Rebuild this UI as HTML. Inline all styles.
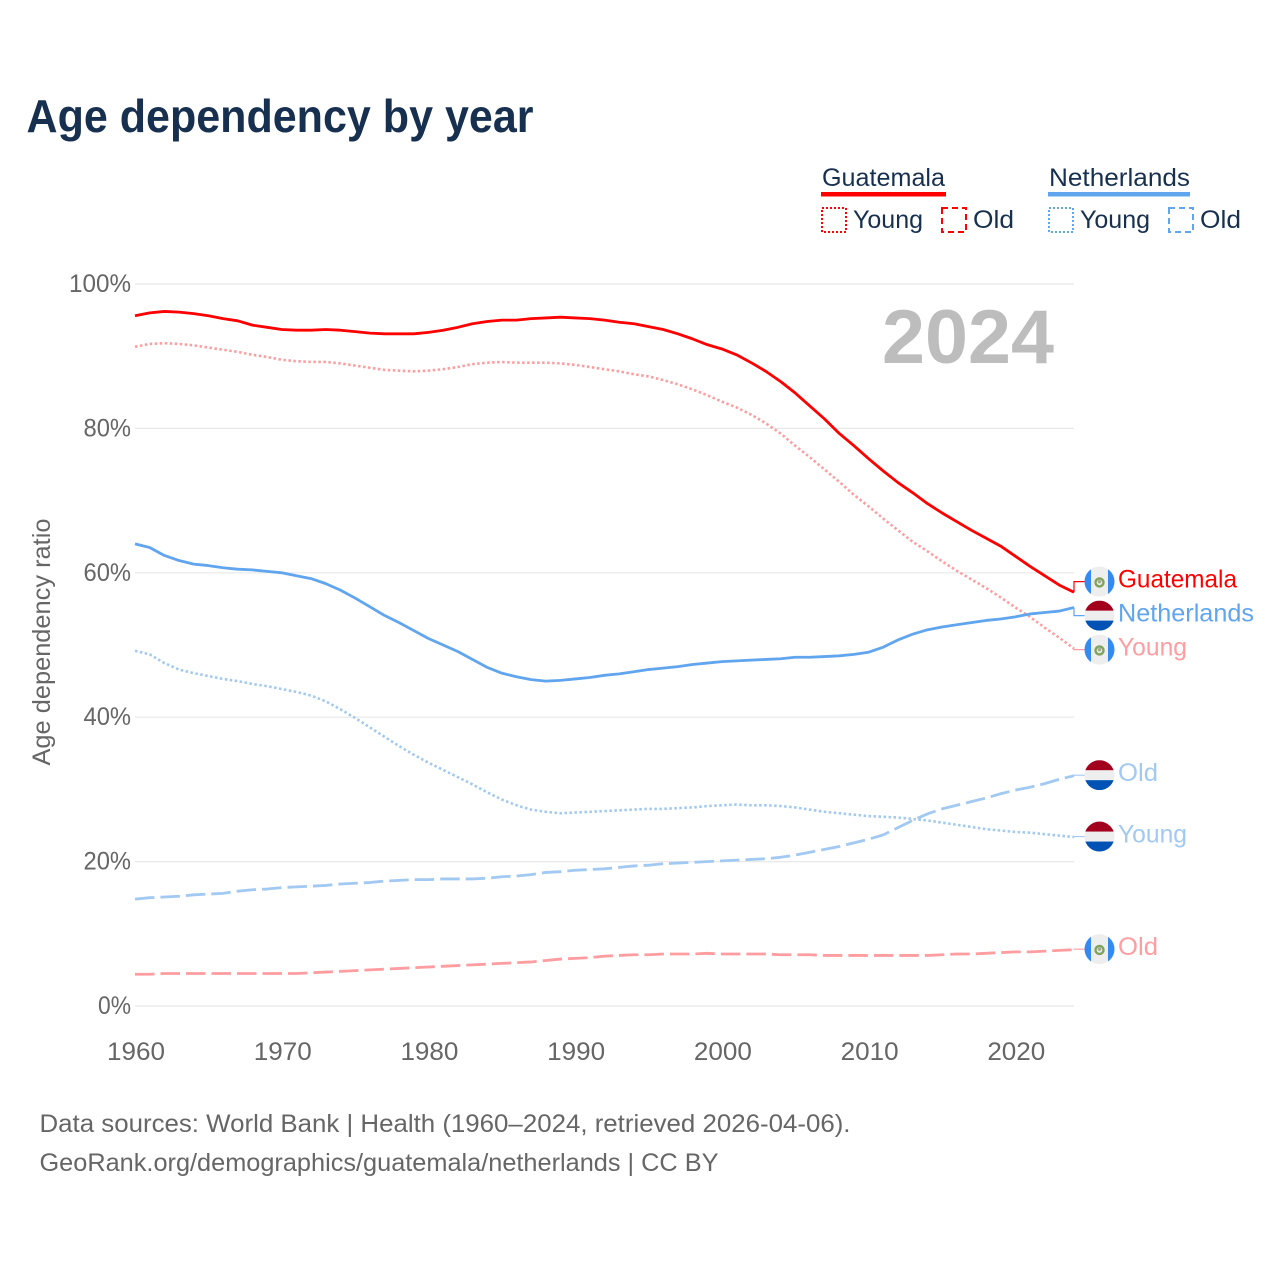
<!DOCTYPE html>
<html lang="en">
<head>
<meta charset="utf-8">
<title>Age dependency by year</title>
<style>
html,body{margin:0;padding:0;background:#fff;}
svg{display:block;font-family:"Liberation Sans",sans-serif;}
</style>
</head>
<body>
<svg id="chart" xmlns="http://www.w3.org/2000/svg" width="1280" height="1280" viewBox="0 0 1280 1280">
  <defs>
    <clipPath id="flag-clip"><circle cx="0" cy="0" r="15"></circle></clipPath>
  </defs>
  <rect width="1280" height="1280" fill="#ffffff"></rect>
  <text x="26.5" y="132" font-size="46" font-weight="700" fill="#18304f" textLength="507" lengthAdjust="spacingAndGlyphs">Age dependency by year</text>

  <g font-size="25" fill="#18304f">
    <text x="822" y="186" textLength="123" lengthAdjust="spacingAndGlyphs">Guatemala</text>
    <rect x="821" y="192" width="125" height="4.5" fill="#ff0000"></rect>
    <rect x="822" y="208" width="24" height="24" fill="none" stroke="#ff0000" stroke-width="2" stroke-dasharray="2 2"></rect>
    <text x="853" y="228" textLength="70" lengthAdjust="spacingAndGlyphs">Young</text>
    <rect x="942" y="208" width="24" height="24" fill="none" stroke="#ff0000" stroke-width="2" stroke-dasharray="6 4"></rect>
    <text x="973" y="228" textLength="41" lengthAdjust="spacingAndGlyphs">Old</text>
    <text x="1049" y="186" textLength="141" lengthAdjust="spacingAndGlyphs">Netherlands</text>
    <rect x="1048" y="192" width="142" height="4.5" fill="#60a5ee"></rect>
    <rect x="1049" y="208" width="24" height="24" fill="none" stroke="#60a5ee" stroke-width="2" stroke-dasharray="2 2"></rect>
    <text x="1080" y="228" textLength="70" lengthAdjust="spacingAndGlyphs">Young</text>
    <rect x="1169" y="208" width="24" height="24" fill="none" stroke="#60a5ee" stroke-width="2" stroke-dasharray="6 4"></rect>
    <text x="1200" y="228" textLength="41" lengthAdjust="spacingAndGlyphs">Old</text>
  </g>

  <g id="grid"></g>
  <g id="yticks"></g>
  <g id="xticks"></g>
  <text transform="translate(50,642) rotate(-90)" text-anchor="middle" font-size="25" fill="#666666" textLength="247" lengthAdjust="spacingAndGlyphs">Age dependency ratio</text>
  <text x="882" y="363" font-size="76" font-weight="700" fill="#bdbdbd" textLength="172" lengthAdjust="spacingAndGlyphs">2024</text>
  <g id="series"></g>
  <g id="labels"></g>

  <text x="39.5" y="1132" font-size="25" fill="#666666" textLength="811" lengthAdjust="spacingAndGlyphs">Data sources: World Bank | Health (1960–2024, retrieved 2026-04-06).</text>
  <text x="39.5" y="1171" font-size="25" fill="#666666" textLength="679" lengthAdjust="spacingAndGlyphs">GeoRank.org/demographics/guatemala/netherlands | CC BY</text>
</svg>
<script>
const startYear = 1960;
const endYear = 2024;
const yTickValues = [0, 20, 40, 60, 80, 100];
const xTickValues = [1960, 1970, 1980, 1990, 2000, 2010, 2020];

const guatemalaTotal = [95.6,96.0,96.2,96.1,95.9,95.6,95.2,94.9,94.3,94.0,93.7,93.6,93.6,93.7,93.6,93.4,93.2,93.1,93.1,93.1,93.3,93.6,94.0,94.5,94.8,95.0,95.0,95.2,95.3,95.4,95.3,95.2,95.0,94.7,94.5,94.1,93.7,93.1,92.4,91.6,91.0,90.2,89.1,87.9,86.5,84.9,83.1,81.3,79.3,77.6,75.8,74.1,72.5,71.1,69.6,68.3,67.1,65.9,64.8,63.7,62.3,60.9,59.6,58.3,57.3];
const guatemalaYoung = [91.3,91.7,91.8,91.7,91.5,91.2,90.9,90.6,90.2,89.9,89.5,89.3,89.2,89.2,89.0,88.7,88.4,88.1,88.0,87.9,88.0,88.2,88.5,88.9,89.1,89.2,89.1,89.1,89.1,89.0,88.8,88.5,88.2,87.9,87.5,87.2,86.7,86.1,85.4,84.6,83.7,82.9,81.9,80.7,79.3,77.6,76.0,74.3,72.6,70.8,69.2,67.5,65.9,64.3,63.0,61.6,60.3,59.1,57.9,56.6,55.2,53.9,52.4,51.0,49.5];
const guatemalaOld = [4.4,4.4,4.5,4.5,4.5,4.5,4.5,4.5,4.5,4.5,4.5,4.5,4.6,4.7,4.8,4.9,5.0,5.1,5.2,5.3,5.4,5.5,5.6,5.7,5.8,5.9,6.0,6.1,6.3,6.5,6.6,6.7,6.9,7.0,7.1,7.1,7.2,7.2,7.2,7.3,7.2,7.2,7.2,7.2,7.1,7.1,7.1,7.0,7.0,7.0,7.0,7.0,7.0,7.0,7.0,7.1,7.2,7.2,7.3,7.4,7.5,7.5,7.6,7.7,7.8];
const netherlandsTotal = [64.0,63.5,62.4,61.7,61.2,61.0,60.7,60.5,60.4,60.2,60.0,59.6,59.2,58.5,57.6,56.5,55.3,54.1,53.1,52.0,50.9,50.0,49.1,48.0,46.9,46.1,45.6,45.2,45.0,45.1,45.3,45.5,45.8,46.0,46.3,46.6,46.8,47.0,47.3,47.5,47.7,47.8,47.9,48.0,48.1,48.3,48.3,48.4,48.5,48.7,49.0,49.7,50.7,51.5,52.1,52.5,52.8,53.1,53.4,53.6,53.9,54.3,54.5,54.7,55.2];
const netherlandsYoung = [49.2,48.7,47.5,46.6,46.1,45.7,45.3,45.0,44.6,44.3,43.9,43.5,43.0,42.2,41.1,39.9,38.6,37.3,36.0,34.8,33.7,32.7,31.7,30.7,29.6,28.6,27.8,27.2,26.9,26.7,26.8,26.9,27.0,27.1,27.2,27.3,27.3,27.4,27.5,27.7,27.8,27.9,27.8,27.8,27.7,27.5,27.2,26.9,26.7,26.5,26.3,26.2,26.1,25.9,25.7,25.4,25.1,24.8,24.5,24.3,24.1,24.0,23.8,23.6,23.4];
const netherlandsOld = [14.8,15.0,15.1,15.2,15.4,15.5,15.6,15.9,16.1,16.2,16.4,16.5,16.6,16.7,16.9,17.0,17.1,17.3,17.4,17.5,17.5,17.6,17.6,17.6,17.7,17.9,18.0,18.2,18.5,18.6,18.8,18.9,19.0,19.2,19.4,19.5,19.7,19.8,19.9,20.0,20.1,20.2,20.3,20.4,20.6,20.9,21.3,21.7,22.1,22.6,23.1,23.7,24.7,25.7,26.6,27.3,27.8,28.3,28.8,29.4,29.9,30.3,30.8,31.4,31.9];

const NS = 'http://www.w3.org/2000/svg';
const plotLeft = 135, plotRight = 1074, plotTop = 284, plotBottom = 1006;
function xScale(year) { return plotLeft + (year - startYear) * (plotRight - plotLeft) / (endYear - startYear); }
function yScale(value) { return plotBottom - value * (plotBottom - plotTop) / 100; }
function make(tag, attrs, parent) {
  const el = document.createElementNS(NS, tag);
  for (const k in attrs) el.setAttribute(k, attrs[k]);
  parent.appendChild(el);
  return el;
}

const gridGroup = document.getElementById('grid');
const yTickGroup = document.getElementById('yticks');
const xTickGroup = document.getElementById('xticks');
const seriesGroup = document.getElementById('series');
const labelGroup = document.getElementById('labels');

yTickValues.forEach(function (v) {
  const line = make('line', {x1: plotLeft, x2: plotRight, y1: yScale(v), y2: yScale(v), stroke: '#e8e8e8', 'stroke-width': 1.2}, gridGroup);
  
  
  const label = v + '%';
  const labelLength = (label.length - 1) * 14.5 + 18.5;
  const t = make('text', {x: 131 - labelLength, y: yScale(v) + 8, 'font-size': 25, fill: '#666666', textLength: labelLength, lengthAdjust: 'spacingAndGlyphs'}, yTickGroup);
  t.textContent = label;
  
  
});
xTickValues.forEach(function (v) {
  const t = make('text', {x: xScale(v) - 28, y: 1060, 'font-size': 25, fill: '#666666', textLength: 58, lengthAdjust: 'spacingAndGlyphs'}, xTickGroup);
  t.textContent = String(v);
  
  
});

const seriesList = [
  {id: 'guatemala-old', label: 'Old', labelLength: 40, country: 'gt', values: guatemalaOld, color: '#ff9da1', width: 2.8, dash: '19.5 6'},
  {id: 'netherlands-old', label: 'Old', labelLength: 40, country: 'nl', values: netherlandsOld, color: '#a2c9f1', width: 2.8, dash: '19.5 6'},
  {id: 'netherlands-young', label: 'Young', labelLength: 69, country: 'nl', values: netherlandsYoung, color: '#a2c9f1', width: 2.6, dash: '2.5 2.5'},
  {id: 'guatemala-young', label: 'Young', labelLength: 69, country: 'gt', values: guatemalaYoung, color: '#ff9da1', width: 2.6, dash: '2.5 2.5'},
  {id: 'netherlands-total', label: 'Netherlands', labelLength: 136, country: 'nl', values: netherlandsTotal, color: '#60a5ee', width: 2.8, dash: ''},
  {id: 'guatemala-total', label: 'Guatemala', labelLength: 119, country: 'gt', values: guatemalaTotal, color: '#ff0000', width: 2.8, dash: ''}
];

seriesList.forEach(function (s) {
  const pts = s.values.map(function (v, i) { return xScale(startYear + i).toFixed(2) + ',' + yScale(v).toFixed(2); }).join(' ');
  const attrs = {points: pts, fill: 'none', stroke: s.color, 'stroke-width': s.width, 'stroke-linejoin': 'round'};
  if (s.dash) attrs['stroke-dasharray'] = s.dash;
  const line = make('polyline', attrs, seriesGroup);
  
  
});

/* End labels: resolve collisions by merging overlapping clusters around their mean. */
const labelGap = 34;
const placed = seriesList.map(function (s) {
  return {s: s, y: yScale(s.values[s.values.length - 1])};
}).sort(function (a, b) { return a.y - b.y; });
let clusters = placed.map(function (p) { return {items: [p], centre: p.y}; });
let merged = true;
while (merged) {
  merged = false;
  for (let i = 0; i < clusters.length - 1; i++) {
    const a = clusters[i], b = clusters[i + 1];
    const aEnd = a.centre + (a.items.length - 1) * labelGap / 2;
    const bStart = b.centre - (b.items.length - 1) * labelGap / 2;
    if (bStart - aEnd < labelGap) {
      const items = a.items.concat(b.items);
      const centre = items.reduce(function (sum, p) { return sum + p.y; }, 0) / items.length;
      clusters.splice(i, 2, {items: items, centre: centre});
      merged = true;
      break;
    }
  }
}
clusters.forEach(function (c) {
  c.items.forEach(function (p, i) {
    p.labelY = c.centre + (i - (c.items.length - 1) / 2) * labelGap - 0.5;
  });
});

function drawFlag(parent, country, cy) {
  const g = make('g', {transform: 'translate(1099.5,' + cy.toFixed(2) + ')', 'clip-path': 'url(#flag-clip)'}, parent);
  
  
  if (country === 'gt') {
    make('rect', {x: -15, y: -15, width: 30, height: 30, fill: '#eeeeee'}, g);
    make('rect', {x: -15, y: -15, width: 6.5, height: 30, fill: '#338af3'}, g);
    make('rect', {x: 8.5, y: -15, width: 6.5, height: 30, fill: '#338af3'}, g);
    make('circle', {cx: 0, cy: 0.8, r: 4, fill: 'none', stroke: '#7ea35e', 'stroke-width': 2.4}, g);
    make('circle', {cx: 0, cy: 0, r: 1.8, fill: '#a8a890'}, g);
  } else {
    make('rect', {x: -15, y: -15, width: 30, height: 30, fill: '#eeeeee'}, g);
    make('rect', {x: -15, y: -15, width: 30, height: 10, fill: '#a2001d'}, g);
    make('rect', {x: -15, y: 5, width: 30, height: 10, fill: '#0052b4'}, g);
  }
}

placed.forEach(function (p) {
  const conn = make('polyline', {points: plotRight + ',' + p.y.toFixed(2) + ' ' + plotRight + ',' + p.labelY.toFixed(2) + ' 1085,' + p.labelY.toFixed(2), fill: 'none', stroke: p.s.color, 'stroke-width': 1.2}, labelGroup);
  
  
  drawFlag(labelGroup, p.s.country, p.labelY);
  const t = make('text', {x: 1118, y: p.labelY + 6, 'font-size': 25, fill: p.s.color, textLength: p.s.labelLength, lengthAdjust: 'spacingAndGlyphs'}, labelGroup);
  t.textContent = p.s.label;
  
  
});
</script>
</body>
</html>
